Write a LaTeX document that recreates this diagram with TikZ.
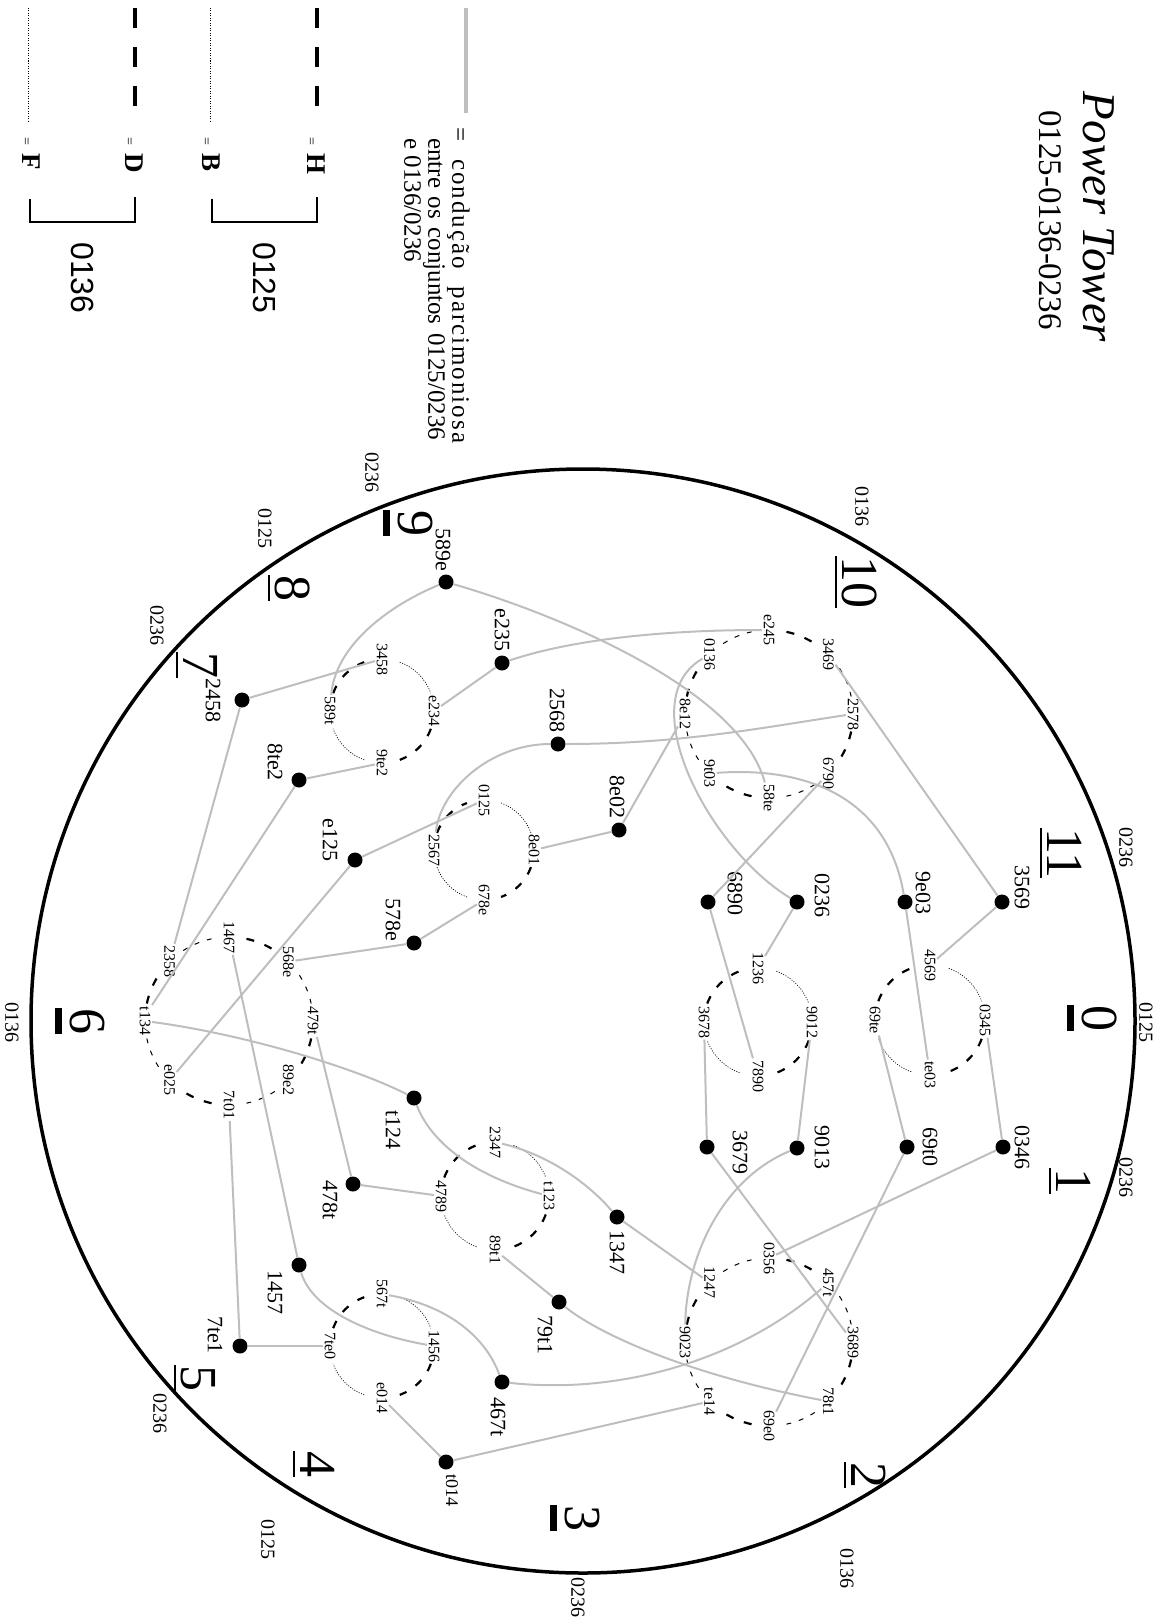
\documentclass[tikz,border=0pt]{standalone}
\usepackage{fontspec}
\setmainfont{Liberation Serif}
\setsansfont{Liberation Sans}
\usetikzlibrary{calc}
\definecolor{conngray}{RGB}{190,190,190}
\newcommand{\ulnum}[1]{\setbox0\hbox{#1}\rlap{\rule[-7pt]{\wd0}{1.8pt}}\box0}
\newcommand{\barnum}[1]{\setbox0\hbox{#1}\rlap{\rule[-15pt]{\wd0}{7pt}}\box0}
\tikzset{
  dot/.style={circle, fill=black, inner sep=0pt, minimum size=15pt},
  dotlabel/.style={rotate=-90, inner sep=0pt, font=\fontsize{22}{22}\selectfont},
  cyclabel/.style={rotate=-90, inner sep=1.5pt, font=\fontsize{16}{16}\selectfont},
  setlabel/.style={rotate=-90, inner sep=0pt, font=\fontsize{20}{20}\selectfont},
  hour/.style={rotate=-90, inner sep=0pt, anchor=base west, font=\fontsize{52}{52}\selectfont},
  conn/.style={draw=conngray, line width=2pt},
  hlink/.style={line width=2.2pt, dash pattern=on 8pt off 11pt},
  thinlink/.style={line width=1pt, dash pattern=on 5pt off 8pt},
  dotlink/.style={line width=0.7pt, dash pattern=on 1pt off 1.5pt},
  legkey/.style={rotate=-90, inner sep=0pt, anchor=base west},
}

\begin{document}
\begin{tikzpicture}[x=1pt, y=-1pt]
\useasboundingbox (0,0) rectangle (1168,1619);

% title
\node[rotate=-90, anchor=base, inner sep=0pt, font=\fontsize{47}{47}\selectfont\itshape] (title) at (1083,217) {Power Tower};
\node[rotate=-90, anchor=base, inner sep=0pt, font=\fontsize{33}{33}\selectfont] (subtitle) at (1039,220) {0125-0136-0236};

% legend
\draw[conngray, line width=4pt] (466,8) -- (466,113);
\node[rotate=-90, anchor=north west, inner sep=0pt, align=left, font=\fontsize{25}{24}\selectfont] (legtext) at (470,127)
  {\makebox[316pt][s]{\addfontfeature{LetterSpace=8}= condução parcimoniosa}\\
   \hspace*{11pt}\makebox[302pt][s]{entre os conjuntos 0125/0236}\\
   \hspace*{11pt}e 0136/0236};
\draw[line width=4pt, dash pattern=on 20pt off 19pt] (317,8) -- (317,106);
\draw[line width=0.8pt, dash pattern=on 1pt off 1.5pt] (210,8) -- (210,122);
\draw[line width=4pt, dash pattern=on 20pt off 19pt] (135,8) -- (135,106);
\draw[line width=0.8pt, dash pattern=on 1pt off 1.5pt] (28,8) -- (28,122);
\node[legkey] (keyH) at (307,137) {{\fontsize{14}{14}\selectfont =}\hspace{8pt}{\fontsize{27}{27}\selectfont\bfseries H}};
\node[legkey] (keyB) at (202,137) {{\fontsize{14}{14}\selectfont =}\hspace{8pt}{\fontsize{27}{27}\selectfont\bfseries B}};
\node[legkey] (keyD) at (125,137) {{\fontsize{14}{14}\selectfont =}\hspace{8pt}{\fontsize{27}{27}\selectfont\bfseries D}};
\node[legkey] (keyF) at (22,137) {{\fontsize{14}{14}\selectfont =}\hspace{8pt}{\fontsize{27}{27}\selectfont\bfseries F}};
\draw[line width=2pt] (317,197) -- (317,222) -- (212,222) -- (212,199);
\draw[line width=2pt] (135,197) -- (135,222) -- (30,222) -- (30,199);
\node[rotate=-90, inner sep=0pt, font=\fontsize{32}{32}\selectfont\sffamily] (grp0125) at (265,278) {0125};
\node[rotate=-90, inner sep=0pt, font=\fontsize{32}{32}\selectfont\sffamily] (grp0136) at (83,278) {0136};

% clock
\draw[line width=3.5pt] (583,1021) circle[radius=552];
\node[hour] (h0) at (1082,1005) {\barnum{0}};
\node[hour] (h1) at (1056,1168) {\ulnum{1}};
\node[hour] (h2) at (851,1462) {\ulnum{2}};
\node[hour] (h3) at (565,1505) {\barnum{3}};
\node[hour] (h4) at (300,1451) {\ulnum{4}};
\node[hour] (h5) at (181,1365) {\ulnum{5}};
\node[hour] (h6) at (70,1008) {\barnum{6}};
\node[hour] (h7) at (183,652) {\ulnum{7}};
\node[hour] (h8) at (275,575) {\ulnum{8}};
\node[hour] (h9) at (398,510) {\barnum{9}};
\node[hour] (h10) at (842,556) {\ulnum{10}};
\node[hour] (h11) at (1047,828) {\ulnum{11}};
\node[setlabel] (s0) at (1146,1022) {0125};
\node[setlabel] (s1) at (1126,1177) {0236};
\node[setlabel] (s2) at (847,1568) {0136};
\node[setlabel] (s3) at (578,1597) {0236};
\node[setlabel] (s4) at (268,1539) {0125};
\node[setlabel] (s5) at (160,1413) {0236};
\node[setlabel] (s6) at (12,1022) {0136};
\node[setlabel] (s7) at (157,625) {0236};
\node[setlabel] (s8) at (265,528) {0125};
\node[setlabel] (s9) at (372,472) {0236};
\node[setlabel] (s10) at (862,506) {0136};
\node[setlabel] (s11) at (1126,847) {0236};

% cycles
\coordinate (cA) at (769,714);
\coordinate (cF) at (229,1021);
\coordinate (cI) at (769,1342);
\coordinate (cB) at (930,1020);
\coordinate (cC) at (758,1022);
\coordinate (cD) at (382,711);
\coordinate (cE) at (484,850);
\coordinate (cG) at (495,1196);
\coordinate (cH) at (382,1346);
\foreach \a/\lab in {-90/e245,-45/3469,0/2578,45/6790,90/58te,135/9t03,180/8e12,225/0136}
  \node[cyclabel] (l\lab) at ($(cA)+(\a:84)$) {\lab};
\foreach \a/\lab in {-90/1467,-45/568e,0/479t,45/89e2,90/7t01,135/e025,180/t134,225/2358}
  \node[cyclabel] (l\lab) at ($(cF)+(\a:84)$) {\lab};
\foreach \a/\lab in {-90/0356,-45/457t,0/3689,45/78t1,90/69e0,135/te14,180/9023,225/1247}
  \node[cyclabel] (l\lab) at ($(cI)+(\a:84)$) {\lab};
\foreach \a/\lab in {-90/4569,0/0345,90/te03,180/69te}
  \node[cyclabel] (l\lab) at ($(cB)+(\a:55)$) {\lab};
\foreach \a/\lab in {-90/1236,0/9012,90/7890,180/3678}
  \node[cyclabel] (l\lab) at ($(cC)+(\a:54)$) {\lab};
\foreach \a/\lab in {-90/3458,0/e234,90/9te2,180/589t}
  \node[cyclabel] (l\lab) at ($(cD)+(\a:52)$) {\lab};
\foreach \a/\lab in {-90/0125,0/8e01,90/678e,180/2567}
  \node[cyclabel] (l\lab) at ($(cE)+(\a:50)$) {\lab};
\foreach \a/\lab in {-90/2347,0/t123,90/89t1,180/4789}
  \node[cyclabel] (l\lab) at ($(cG)+(\a:54)$) {\lab};
\foreach \a/\lab in {-90/567t,0/1456,90/e014,180/7te0}
  \node[cyclabel] (l\lab) at ($(cH)+(\a:52)$) {\lab};

\foreach \c in {A,F,I}
  \foreach \a/\s in {-90/hlink,-45/thinlink,0/hlink,45/thinlink,90/hlink,135/thinlink,180/hlink,225/thinlink}
    \draw[\s] ($(c\c)+(\a+12:84)$) arc[start angle=\a+12, end angle=\a+33, radius=84];
\foreach \c/\r in {B/55,C/54,D/52,E/50,G/54,H/52}
  \foreach \a/\s in {-90/dotlink,0/hlink,90/dotlink,180/hlink}
    \draw[\s] ($(c\c)+(\a+20:\r)$) arc[start angle=\a+20, end angle=\a+70, radius=\r];

% chords
\node[dot] (n3569) at (1002,902) {};
\node[dotlabel] (n3569-txt) at (1022,887) {3569};
\node[dot] (n9e03) at (905,902) {};
\node[dotlabel] (n9e03-txt) at (923,893) {9e03};
\node[dot] (n0236) at (797,902) {};
\node[dotlabel] (n0236-txt) at (822,895) {0236};
\node[dot] (n6890) at (708,902) {};
\node[dotlabel] (n6890-txt) at (735,893) {6890};
\node[dot] (n0346) at (1003,1147) {};
\node[dotlabel] (n0346-txt) at (1022,1147) {0346};
\node[dot] (n69t0) at (907,1147) {};
\node[dotlabel] (n69t0-txt) at (930,1147) {69t0};
\node[dot] (n9013) at (797,1148) {};
\node[dotlabel] (n9013-txt) at (822,1147) {9013};
\node[dot] (n3679) at (707,1147) {};
\node[dotlabel] (n3679-txt) at (740,1152) {3679};
\node[dot] (n8e02) at (619,830) {};
\node[dotlabel] (n8e02-txt) at (617,797) {8e02};
\node[dot] (n2568) at (558,744) {};
\node[dotlabel] (n2568-txt) at (557,710) {2568};
\node[dot] (ne235) at (502,663) {};
\node[dotlabel] (ne235-txt) at (502,630) {e235};
\node[dot] (n589e) at (446,582) {};
\node[dotlabel] (n589e-txt) at (443,550) {589e};
\node[dot] (n2458) at (242,700) {};
\node[dotlabel] (n2458-txt) at (213,700) {2458};
\node[dot] (n8te2) at (299,780) {};
\node[dotlabel] (n8te2-txt) at (275,762) {8te2};
\node[dot] (ne125) at (355,860) {};
\node[dotlabel] (ne125-txt) at (330,840) {e125};
\node[dot] (n578e) at (414,943) {};
\node[dotlabel] (n578e-txt) at (393,920) {578e};
\node[dot] (nt124) at (414,1098) {};
\node[dotlabel] (nt124-txt) at (393,1130) {t124};
\node[dot] (n478t) at (353,1184) {};
\node[dotlabel] (n478t-txt) at (330,1200) {478t};
\node[dot] (n1457) at (299,1265) {};
\node[dotlabel] (n1457-txt) at (275,1292) {1457};
\node[dot] (n7te1) at (240,1346) {};
\node[dotlabel] (n7te1-txt) at (215,1335) {7te1};
\node[dot] (n1347) at (617,1217) {};
\node[dotlabel] (n1347-txt) at (617,1252) {1347};
\node[dot] (n79t1) at (559,1302) {};
\node[dotlabel] (n79t1-txt) at (545,1335) {79t1};
\node[dot] (n467t) at (502,1382) {};
\node[dotlabel] (n467t-txt) at (498,1417) {467t};
\node[dot] (nt014) at (446,1462) {};
\node[dotlabel, font=\fontsize{18}{18}\selectfont] (nt014-txt) at (452,1490) {t014};

% parsimonious links
\draw[conn] (n3569) -- (l3469);
\draw[conn] (n3569) -- (l4569);
\draw[conn] (n9e03) -- (lte03);
\draw[conn] (n0236) -- (l1236);
\draw[conn] (n6890) -- (l6790);
\draw[conn] (n6890) -- (l7890);
\draw[conn] (n8e02) -- (l8e12);
\draw[conn] (n8e02) -- (l8e01);
\draw[conn] (ne235) -- (le234);
\draw[conn] (n2458) -- (l3458);
\draw[conn] (n2458) -- (l2358);
\draw[conn] (n8te2) -- (l9te2);
\draw[conn] (n8te2) -- (lt134.north west);
\draw[conn] (ne125) -- (l0125);
\draw[conn] (ne125) -- (le025);
\draw[conn] (n578e) -- (l678e);
\draw[conn] (n578e) -- (l568e);
\draw[conn] (n478t) -- (l479t);
\draw[conn] (n478t) -- (l4789);
\draw[conn] (n1347) -- (l1247);
\draw[conn] (n79t1) -- (l89t1);
\draw[conn] (n1457) -- (l1467);
\draw[conn] (n7te1) -- (l7te0);
\draw[conn] (n7te1) -- (l7t01);
\draw[conn] (nt014) -- (le014);
\draw[conn] (nt014) -- (lte14);
\draw[conn] (n0346) -- (l0345);
\draw[conn] (n0346) -- (l0356);
\draw[conn] (n69t0) -- (l69te);
\draw[conn] (n69t0) -- (l69e0);
\draw[conn] (n9013) -- (l9012);
\draw[conn] (n3679) -- (l3678);
\draw[conn] (n3679) -- (l3689);
\draw[conn] (n9e03) .. controls (888,800) and (810,766) .. (l9t03);
\draw[conn] (n0236) .. controls (710,850) and (630,700) .. (l0136);
\draw[conn] (n589e) .. controls (560,615) and (740,690) .. (l58te);
\draw[conn] (n2568) .. controls (680,744) and (760,728) .. (l2578);
\draw[conn] (n2568) .. controls (490,744) and (440,790) .. (l2567);
\draw[conn] (ne235) .. controls (570,640) and (660,630) .. (le245);
\draw[conn] (n589e) .. controls (390,605) and (335,645) .. (l589t);
\draw[conn] (nt124) .. controls (360,1070) and (250,1035) .. (lt134);
\draw[conn] (nt124) .. controls (430,1140) and (470,1175) .. (lt123);
\draw[conn] (n1347) .. controls (590,1185) and (550,1155) .. (l2347);
\draw[conn] (n79t1) .. controls (600,1335) and (690,1375) .. (l78t1);
\draw[conn] (n1457) .. controls (312,1310) and (370,1335) .. (l1456);
\draw[conn] (n467t) .. controls (485,1335) and (445,1305) .. (l567t);
\draw[conn] (n467t) .. controls (620,1395) and (740,1360) .. (l457t);
\draw[conn] (n9013) .. controls (720,1180) and (686,1260) .. (l9023);
\end{tikzpicture}
\end{document}
